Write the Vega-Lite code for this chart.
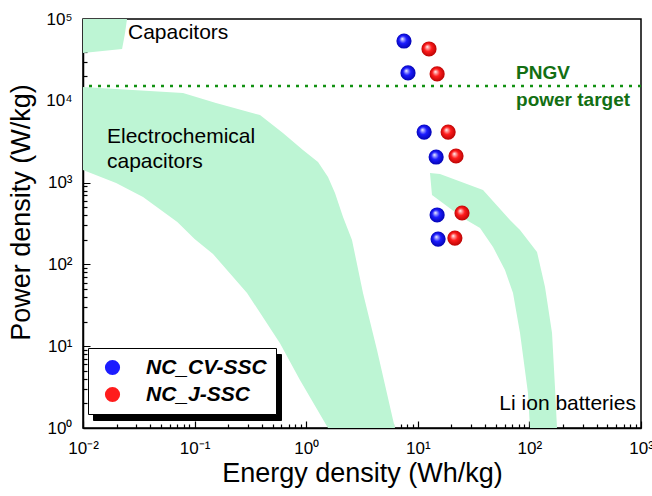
{
  "$schema": "https://vega.github.io/schema/vega-lite/v6.json",
  "width": 558,
  "height": 409,
  "autosize": {"type": "none"},
  "padding": {"left": 83, "top": 19, "right": 11, "bottom": 68},
  "background": "white",
  "config": {
    "font": "Liberation Sans",
    "view": {"stroke": "black", "strokeWidth": 1.5},
    "axis": {"grid": false}
  },
  "datasets": {
    "regions": [
      {"region": "cap", "i": 1, "x": 0.01, "y": 100000},
      {"region": "cap", "i": 2, "x": 0.0248, "y": 100000},
      {"region": "cap", "i": 3, "x": 0.0238, "y": 67400},
      {"region": "cap", "i": 4, "x": 0.0224, "y": 43000},
      {"region": "cap", "i": 5, "x": 0.01, "y": 38400},
      {"region": "ec", "i": 1, "x": 0.01, "y": 14750},
      {"region": "ec", "i": 2, "x": 0.0198, "y": 13940},
      {"region": "ec", "i": 3, "x": 0.0787, "y": 12450},
      {"region": "ec", "i": 4, "x": 0.1555, "y": 9400},
      {"region": "ec", "i": 5, "x": 0.3855, "y": 6700},
      {"region": "ec", "i": 6, "x": 0.619, "y": 4040},
      {"region": "ec", "i": 7, "x": 0.935, "y": 2505},
      {"region": "ec", "i": 8, "x": 1.276, "y": 1786},
      {"region": "ec", "i": 9, "x": 1.568, "y": 1171},
      {"region": "ec", "i": 10, "x": 1.811, "y": 746},
      {"region": "ec", "i": 11, "x": 2.138, "y": 380},
      {"region": "ec", "i": 12, "x": 2.572, "y": 199},
      {"region": "ec", "i": 13, "x": 3.228, "y": 44.7},
      {"region": "ec", "i": 14, "x": 4.31, "y": 8.99},
      {"region": "ec", "i": 15, "x": 6.0, "y": 1.25},
      {"region": "ec", "i": 16, "x": 6.25, "y": 1},
      {"region": "ec", "i": 17, "x": 1.568, "y": 1},
      {"region": "ec", "i": 18, "x": 0.879, "y": 3.86},
      {"region": "ec", "i": 19, "x": 0.582, "y": 10.9},
      {"region": "ec", "i": 20, "x": 0.295, "y": 44.7},
      {"region": "ec", "i": 21, "x": 0.1462, "y": 134},
      {"region": "ec", "i": 22, "x": 0.1, "y": 205},
      {"region": "ec", "i": 23, "x": 0.07, "y": 330},
      {"region": "ec", "i": 24, "x": 0.0345, "y": 667},
      {"region": "ec", "i": 25, "x": 0.0198, "y": 989},
      {"region": "ec", "i": 26, "x": 0.01, "y": 1426},
      {"region": "li", "i": 1, "x": 12.86, "y": 1310},
      {"region": "li", "i": 2, "x": 15.81, "y": 1274},
      {"region": "li", "i": 3, "x": 38.4, "y": 812},
      {"region": "li", "i": 4, "x": 67.0, "y": 349},
      {"region": "li", "i": 5, "x": 82.4, "y": 263.5},
      {"region": "li", "i": 6, "x": 117, "y": 142},
      {"region": "li", "i": 7, "x": 138, "y": 52.9},
      {"region": "li", "i": 8, "x": 159.5, "y": 14.5},
      {"region": "li", "i": 9, "x": 169.5, "y": 3.17},
      {"region": "li", "i": 10, "x": 176.7, "y": 1},
      {"region": "li", "i": 11, "x": 101.2, "y": 1},
      {"region": "li", "i": 12, "x": 97.1, "y": 2.68},
      {"region": "li", "i": 13, "x": 82.4, "y": 14.5},
      {"region": "li", "i": 14, "x": 71.3, "y": 44.7},
      {"region": "li", "i": 15, "x": 60.4, "y": 85.4},
      {"region": "li", "i": 16, "x": 47.2, "y": 163},
      {"region": "li", "i": 17, "x": 36.1, "y": 279},
      {"region": "li", "i": 18, "x": 25.4, "y": 369},
      {"region": "li", "i": 19, "x": 13.4, "y": 705}
    ],
    "points": [
      {"series": "NC_CV-SSC", "x": 7.52, "y": 53800},
      {"series": "NC_CV-SSC", "x": 8.17, "y": 21900},
      {"series": "NC_CV-SSC", "x": 11.4, "y": 4150},
      {"series": "NC_CV-SSC", "x": 14.6, "y": 2055},
      {"series": "NC_CV-SSC", "x": 14.9, "y": 402},
      {"series": "NC_CV-SSC", "x": 15.2, "y": 204},
      {"series": "NC_J-SSC", "x": 12.6, "y": 43000},
      {"series": "NC_J-SSC", "x": 14.9, "y": 21300},
      {"series": "NC_J-SSC", "x": 18.7, "y": 4150},
      {"series": "NC_J-SSC", "x": 22.0, "y": 2115},
      {"series": "NC_J-SSC", "x": 24.9, "y": 425},
      {"series": "NC_J-SSC", "x": 21.5, "y": 210}
    ],
    "shadow": [
      {"s": "NC_CV-SSC", "x": 7.52, "y": 53800},
      {"s": "NC_J-SSC", "x": 12.6, "y": 43000}
    ],
    "target": [{"y": 15200}],
    "blackText": [
      {"label": "Capacitors", "x": 0.0253, "y": 67400},
      {"label": "Electrochemical", "x": 0.0164, "y": 3610},
      {"label": "capacitors", "x": 0.0164, "y": 1785}
    ],
    "rightText": [
      {"label": "Li ion batteries", "x": 901, "y": 1.97}
    ],
    "greenText": [
      {"label": "PNGV", "x": 75.9, "y": 21900},
      {"label": "power target", "x": 75.9, "y": 10230}
    ]
  },
  "layer": [
    {
      "data": {"name": "regions"},
      "mark": {"type": "line", "fill": "#bdf5d4", "strokeWidth": 0, "clip": true},
      "encoding": {
        "x": {
          "field": "x", "type": "quantitative",
          "scale": {"type": "log", "domain": [0.01, 1000], "nice": false},
          "axis": {
            "title": "Energy density (Wh/kg)",
            "titleFontSize": 27, "titleFontWeight": "normal", "titleColor": "black",
            "titleX": 279, "titleY": 53, "titleBaseline": "alphabetic", "titleAlign": "center",
            "values": [0.01,0.02,0.03,0.04,0.05,0.06,0.07,0.08,0.09,0.1,0.2,0.3,0.4,0.5,0.6,0.7,0.8,0.9,1,2,3,4,5,6,7,8,9,10,20,30,40,50,60,70,80,90,100,200,300,400,500,600,700,800,900,1000],
            "labelExpr": "datum.value == 0.01 ? '10⁻²' : datum.value == 0.1 ? '10⁻¹' : datum.value == 1 ? '10⁰' : datum.value == 10 ? '10¹' : datum.value == 100 ? '10²' : datum.value == 1000 ? '10³' : ''",
            "labelFontSize": 17, "labelColor": "black", "labelOverlap": false, "labelFlush": false, "labelBound": false,
            "labelBaseline": "alphabetic", "labelPadding": 32,
            "tickColor": "black", "tickWidth": 1.2, "tickSize": -7,
            "tickDash": {"condition": {"test": "abs(log(datum.value)/LN10 - round(log(datum.value)/LN10)) < 0.000001", "value": [1, 0]}, "value": [4, 20]},
            "domainColor": "black", "domainWidth": 1.5
          }
        },
        "y": {
          "field": "y", "type": "quantitative",
          "scale": {"type": "log", "domain": [1, 100000], "nice": false},
          "axis": {
            "title": "Power density (W/kg)",
            "titleFontSize": 27, "titleFontWeight": "normal", "titleColor": "black",
            "titleX": -48, "titleY": 193, "titleAngle": -90, "titleBaseline": "bottom", "titleAlign": "center",
            "values": [1,2,3,4,5,6,7,8,9,10,20,30,40,50,60,70,80,90,100,200,300,400,500,600,700,800,900,1000,2000,3000,4000,5000,6000,7000,8000,9000,10000,20000,30000,40000,50000,60000,70000,80000,90000,100000],
            "labelExpr": "datum.value == 1 ? '10⁰' : datum.value == 10 ? '10¹' : datum.value == 100 ? '10²' : datum.value == 1000 ? '10³' : datum.value == 10000 ? '10⁴' : datum.value == 100000 ? '10⁵' : ''",
            "labelFontSize": 17, "labelColor": "black", "labelOverlap": false, "labelFlush": false, "labelBound": false,
            "labelPadding": 18,
            "tickColor": "black", "tickWidth": 1.2, "tickSize": -7,
            "tickDash": {"condition": {"test": "abs(log(datum.value)/LN10 - round(log(datum.value)/LN10)) < 0.000001", "value": [1, 0]}, "value": [4, 20]},
            "domainColor": "black", "domainWidth": 1.5
          }
        },
        "order": {"field": "i", "type": "quantitative"},
        "detail": {"field": "region", "type": "nominal"}
      }
    },
    {
      "data": {"name": "target"},
      "mark": {"type": "rule", "color": "#119111", "strokeWidth": 2.5, "strokeDash": [3, 6]},
      "encoding": {"y": {"field": "y", "type": "quantitative"}}
    },
    {
      "data": {"name": "blackText"},
      "mark": {"type": "text", "align": "left", "baseline": "middle", "fontSize": 21, "color": "black"},
      "encoding": {
        "x": {"field": "x", "type": "quantitative"},
        "y": {"field": "y", "type": "quantitative"},
        "text": {"field": "label"}
      }
    },
    {
      "data": {"name": "rightText"},
      "mark": {"type": "text", "align": "right", "baseline": "middle", "fontSize": 21, "color": "black"},
      "encoding": {
        "x": {"field": "x", "type": "quantitative"},
        "y": {"field": "y", "type": "quantitative"},
        "text": {"field": "label"}
      }
    },
    {
      "data": {"name": "greenText"},
      "mark": {"type": "text", "align": "left", "baseline": "middle", "fontSize": 19, "fontWeight": "bold", "color": "#136f13"},
      "encoding": {
        "x": {"field": "x", "type": "quantitative"},
        "y": {"field": "y", "type": "quantitative"},
        "text": {"field": "label"}
      }
    },
    {
      "data": {"name": "shadow"},
      "mark": {"type": "point", "filled": true, "size": 230, "opacity": 0},
      "encoding": {
        "x": {"field": "x", "type": "quantitative"},
        "y": {"field": "y", "type": "quantitative"},
        "shape": {
          "field": "s", "type": "nominal",
          "legend": {
            "title": null, "orient": "none", "legendX": 10, "legendY": 335,
            "fillColor": "black", "strokeColor": "black",
            "padding": 9, "symbolOffset": 5, "symbolSize": 230, "symbolOpacity": 0,
            "labelFontSize": 21, "labelFontWeight": "bold", "labelFontStyle": "italic", "labelColor": "black",
            "labelOffset": 23, "rowPadding": 5, "labelLimit": 300
          }
        }
      }
    },
    {
      "data": {"name": "points"},
      "mark": {"type": "point", "filled": true, "size": 230, "strokeWidth": 0, "opacity": 0},
      "encoding": {
        "x": {"field": "x", "type": "quantitative"},
        "y": {"field": "y", "type": "quantitative"},
        "fill": {
          "field": "series", "type": "nominal",
          "scale": {"domain": ["NC_CV-SSC", "NC_J-SSC"], "range": ["#1c1cff", "#ff1c1c"]},
          "legend": {
            "title": null, "orient": "none", "legendX": 5, "legendY": 329,
            "fillColor": "white", "strokeColor": "black",
            "padding": 9, "symbolOffset": 5, "symbolSize": 230, "symbolStrokeWidth": 0, "symbolOpacity": 1,
            "labelFontSize": 21, "labelFontWeight": "bold", "labelFontStyle": "italic", "labelColor": "black",
            "labelOffset": 23, "rowPadding": 5, "labelLimit": 300,
            "encode": {
              "symbols": {
                "update": {
                  "fill": [
                    {"test": "datum.value === 'NC_CV-SSC'", "value": {"gradient": "radial", "x1": 0.38, "y1": 0.35, "r1": 0, "x2": 0.5, "y2": 0.5, "r2": 0.55,
                      "stops": [{"offset": 0, "color": "#ffffff"}, {"offset": 0.15, "color": "#a8a8ff"}, {"offset": 0.45, "color": "#1c1cff"}, {"offset": 1, "color": "#0000a8"}]}},
                    {"value": {"gradient": "radial", "x1": 0.38, "y1": 0.35, "r1": 0, "x2": 0.5, "y2": 0.5, "r2": 0.55,
                      "stops": [{"offset": 0, "color": "#ffffff"}, {"offset": 0.15, "color": "#ffa8a8"}, {"offset": 0.45, "color": "#ff1c1c"}, {"offset": 1, "color": "#b00000"}]}}
                  ]
                }
              }
            }
          }
        }
      }
    },
    {
      "data": {"name": "points"},
      "transform": [{"filter": "datum.series === 'NC_CV-SSC'"}],
      "mark": {"type": "point", "filled": true, "size": 230, "strokeWidth": 0, "opacity": 1,
        "fill": {"gradient": "radial", "x1": 0.38, "y1": 0.35, "r1": 0, "x2": 0.5, "y2": 0.5, "r2": 0.55,
          "stops": [{"offset": 0, "color": "#ffffff"}, {"offset": 0.15, "color": "#a8a8ff"}, {"offset": 0.45, "color": "#1c1cff"}, {"offset": 1, "color": "#0000a8"}]}},
      "encoding": {
        "x": {"field": "x", "type": "quantitative"},
        "y": {"field": "y", "type": "quantitative"}
      }
    },
    {
      "data": {"name": "points"},
      "transform": [{"filter": "datum.series === 'NC_J-SSC'"}],
      "mark": {"type": "point", "filled": true, "size": 230, "strokeWidth": 0, "opacity": 1,
        "fill": {"gradient": "radial", "x1": 0.38, "y1": 0.35, "r1": 0, "x2": 0.5, "y2": 0.5, "r2": 0.55,
          "stops": [{"offset": 0, "color": "#ffffff"}, {"offset": 0.15, "color": "#ffa8a8"}, {"offset": 0.45, "color": "#ff1c1c"}, {"offset": 1, "color": "#b00000"}]}},
      "encoding": {
        "x": {"field": "x", "type": "quantitative"},
        "y": {"field": "y", "type": "quantitative"}
      }
    }
  ]
}
